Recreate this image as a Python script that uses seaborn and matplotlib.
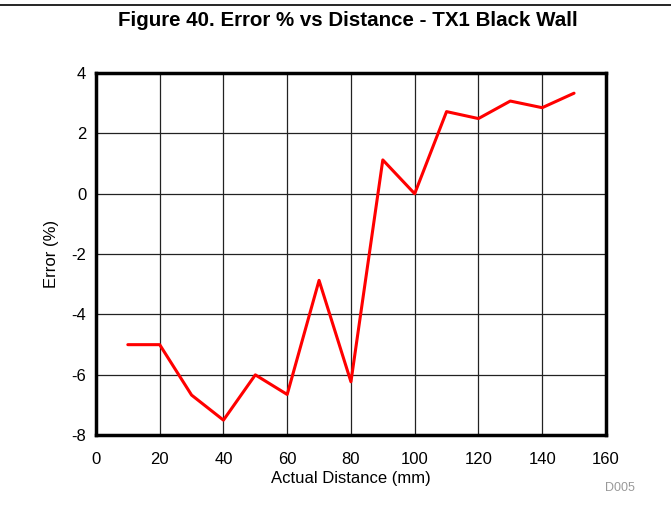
import matplotlib
matplotlib.use('Agg')
from matplotlib import pyplot as plt
from matplotlib.lines import Line2D
import seaborn as sns
import pandas as pd

distance = [10, 20, 30, 40, 50, 60, 70, 80, 90, 100, 110, 120, 130, 140, 150]
error = [-5.0, -5.0, -6.67, -7.5, -6.0, -6.65, -2.87, -6.23, 1.12, 0.0, 2.72, 2.49, 3.07, 2.85, 3.33]
x_ticks = [0, 20, 40, 60, 80, 100, 120, 140, 160]
y_ticks = [-8, -6, -4, -2, 0, 2, 4]

df = pd.DataFrame({'distance': distance, 'error': error})

sns.set_style('white')
plt.rcParams['font.family'] = ['Liberation Sans', 'DejaVu Sans']
plt.rcParams['axes.unicode_minus'] = False

fig = plt.figure(figsize=(6.71, 5.25), dpi=100)
ax = fig.add_axes([0.143, 0.171, 0.760, 0.690])

sns.lineplot(data=df, x='distance', y='error', color='#ff0000', linewidth=2.2, ax=ax)

ax.set_xlim(0, 160)
ax.set_ylim(-8, 4)
ax.set_xticks(x_ticks)
ax.set_yticks(y_ticks)
ax.grid(True, color='#222222', linewidth=0.9)
ax.set_axisbelow(True)
ax.tick_params(length=0, labelsize=12, colors='black')
ax.tick_params(axis='x', pad=12)
ax.tick_params(axis='y', pad=7)
for s in ax.spines.values():
    s.set_linewidth(2.5)
    s.set_color('black')

ax.set_xlabel('Actual Distance (mm)', fontsize=12, labelpad=3, color='black')
ax.set_ylabel('Error (%)', fontsize=12, labelpad=9, color='black')

fig.text(0.519, 0.960, 'Figure 40. Error % vs Distance - TX1 Black Wall',
         ha='center', va='center', fontsize=14.8, fontweight='bold', color='black')
fig.text(0.946, 0.070, 'D005', ha='right', va='center', fontsize=9, color='#999999')
fig.add_artist(Line2D([0, 1], [0.990, 0.990], color='black', linewidth=1.2,
                      transform=fig.transFigure))

fig.savefig('out.png', dpi=100)
